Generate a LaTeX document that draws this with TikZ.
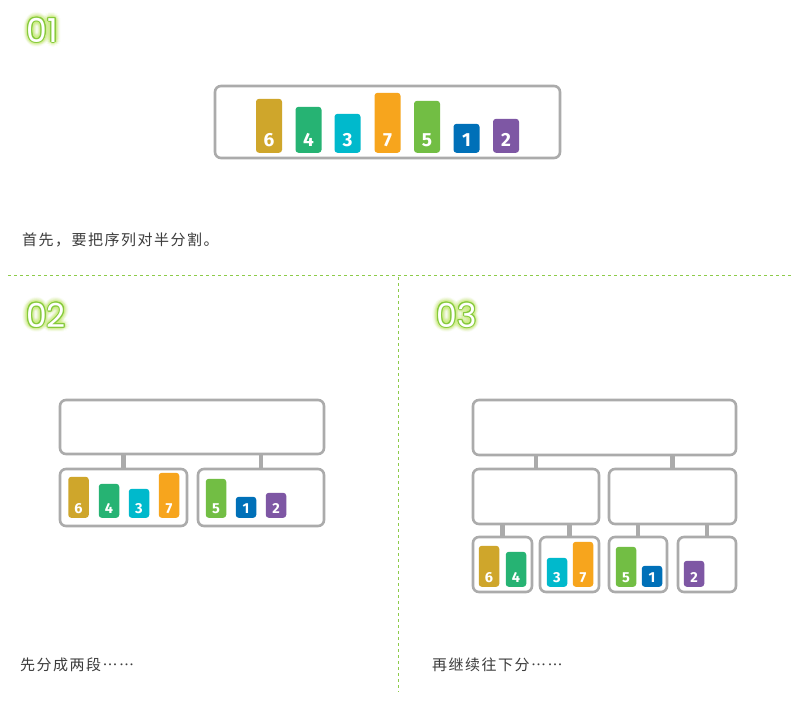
\documentclass[tikz,border=0pt]{standalone}
\usepackage{fontspec}
\setmainfont{Fira Sans}
\newfontfamily\cjk{Noto Sans CJK SC}[Script=CJK, Language=Chinese Simplified, LetterSpace=10]
\newfontfamily\headfont{Poppins}
\definecolor{c6}{HTML}{CFA62B}
\definecolor{c4}{HTML}{26B373}
\definecolor{c3}{HTML}{00B9CC}
\definecolor{c7}{HTML}{F7A51D}
\definecolor{c5}{HTML}{72BE44}
\definecolor{c1}{HTML}{0070B8}
\definecolor{c2}{HTML}{7E57A4}
\definecolor{boxgray}{HTML}{ABABAB}
\definecolor{dashgreen}{HTML}{8DCB4A}
\definecolor{txtgray}{HTML}{3C3C3C}
\definecolor{glowc}{HTML}{C8EC78}
\definecolor{outc}{HTML}{86C93C}
\tikzset{
  box/.style={draw=boxgray, line width=2.6pt, rounded corners=6pt, fill=white, inner sep=0pt},
  conn/.style={draw=boxgray, line width=4.5pt},
  barshape/.style={rounded corners=3pt, inner sep=0pt, draw=none, anchor=south},
  numtxt/.style={text=white, inner sep=0pt, anchor=base},
  dline/.style={draw=dashgreen, line width=1pt, dash pattern=on 3pt off 3pt},
  cjktext/.style={font=\cjk\fontsize{15}{16}\selectfont, text=txtgray, anchor=west, inner sep=0pt},
  headtxt/.style={font=\headfont\fontsize{33}{33}\selectfont, inner sep=0pt},
}
% name, cx, bottom, w, h, color, digit, fontsize, baseline offset
\newcommand\mkbar[9]{%
  \node[barshape, fill=#6, minimum width=#4, minimum height=#5] (#1) at (#2,#3) {};
  \node[numtxt, font=\bfseries\fontsize{#8}{#8}\selectfont] (#1n) at ([yshift=#9pt]#1.south) {#7};
}
\newcommand\glowtext[3]{%
  \foreach \r/\o in {5.5/0.07, 4.2/0.10, 3.0/0.16, 2.0/0.30} {
    \foreach \a in {0,30,...,330} {
      \path (#2) ++(\a:\r) node[headtxt, text=glowc, opacity=\o] {#3};
    }
  }
  \foreach \a in {0,30,...,330} {
    \path (#2) ++(\a:1.0) node[headtxt, text=outc] {#3};
  }
  \node[headtxt, text=white] (#1) at (#2) {#3};
}
\begin{document}
\begin{tikzpicture}[x=1pt,y=-1pt]
\useasboundingbox (0,0) rectangle (805,705);
\fill[white] (0,0) rectangle (805,705);

% headings
\coordinate (h1) at (42.5,30);
\coordinate (h2) at (46,315);
\coordinate (h3) at (456.5,315);
\glowtext{t1}{h1}{01}
\glowtext{t2}{h2}{02}
\glowtext{t3}{h3}{03}

% dashed separators
\coordinate (dl) at (8,275);
\coordinate (dr) at (792,275);
\coordinate (vt) at (398,277);
\coordinate (vb) at (398,692);
\draw[dline] (dl) -- (dr);
\draw[dline] (vt) -- (vb);

% ---------- panel 1 ----------
\node[box, minimum width=345, minimum height=72] (p1) at (387.5,122) {};
\mkbar{a6}{269}{153}{26}{54}{c6}{6}{19}{7}
\mkbar{a4}{308.5}{153}{26}{46}{c4}{4}{19}{7}
\mkbar{a3}{347.5}{153}{26}{39}{c3}{3}{19}{7}
\mkbar{a7}{387.5}{153}{26}{60}{c7}{7}{19}{7}
\mkbar{a5}{427}{153}{26}{52}{c5}{5}{19}{7}
\mkbar{a1}{466.5}{153}{26}{29}{c1}{1}{19}{7}
\mkbar{a2}{506}{153}{26}{34}{c2}{2}{19}{7}
\node[cjktext] (s1) at (22,240) {首先，要把序列对半分割。};

% ---------- panel 2 ----------
\node[box, minimum width=264, minimum height=54] (q0) at (192,427) {};
\node[box, minimum width=127, minimum height=57] (q1) at (123.5,497.5) {};
\node[box, minimum width=126, minimum height=57] (q2) at (261,497.5) {};
\draw[conn] (q1.north) -- (q1.north |- q0.south);
\draw[conn] (q2.north) -- (q2.north |- q0.south);
\mkbar{b6}{78.5}{518}{20.5}{41}{c6}{6}{14.5}{5}
\mkbar{b4}{109}{518}{20.5}{34}{c4}{4}{14.5}{5}
\mkbar{b3}{139}{518}{20.5}{29}{c3}{3}{14.5}{5}
\mkbar{b7}{169}{518}{20.5}{45}{c7}{7}{14.5}{5}
\mkbar{b5}{216}{518}{20.5}{39}{c5}{5}{14.5}{5}
\mkbar{b1}{246}{518}{20.5}{21}{c1}{1}{14.5}{5}
\mkbar{b2}{276}{518}{20.5}{25}{c2}{2}{14.5}{5}
\node[cjktext] (s2) at (20,665) {先分成两段……};

% ---------- panel 3 ----------
\node[box, minimum width=263, minimum height=55] (r0) at (604.5,427.5) {};
\node[box, minimum width=126, minimum height=55] (r1) at (536,496.5) {};
\node[box, minimum width=127, minimum height=55] (r2) at (672.5,496.5) {};
\node[box, minimum width=59, minimum height=55] (u1) at (502.5,564.5) {};
\node[box, minimum width=59, minimum height=55] (u2) at (569.5,564.5) {};
\node[box, minimum width=58, minimum height=55] (u3) at (638,564.5) {};
\node[box, minimum width=58, minimum height=55] (u4) at (707,564.5) {};
\draw[conn] (r1.north) -- (r1.north |- r0.south);
\draw[conn] (r2.north) -- (r2.north |- r0.south);
\draw[conn] (u1.north) -- (u1.north |- r1.south);
\draw[conn] (u2.north) -- (u2.north |- r1.south);
\draw[conn] (u3.north) -- (u3.north |- r2.south);
\draw[conn] (u4.north) -- (u4.north |- r2.south);
\mkbar{e6}{489}{587}{20.5}{41}{c6}{6}{14.5}{5}
\mkbar{e4}{516}{587}{20.5}{35}{c4}{4}{14.5}{5}
\mkbar{e3}{557}{587}{20.5}{29}{c3}{3}{14.5}{5}
\mkbar{e7}{583}{587}{20.5}{45}{c7}{7}{14.5}{5}
\mkbar{e5}{626}{587}{20.5}{40}{c5}{5}{14.5}{5}
\mkbar{e1}{652}{587}{20.5}{21}{c1}{1}{14.5}{5}
\mkbar{e2}{694}{587}{20.5}{26}{c2}{2}{14.5}{5}
\node[cjktext] (s3) at (432,665) {再继续往下分……};
\end{tikzpicture}
\end{document}
